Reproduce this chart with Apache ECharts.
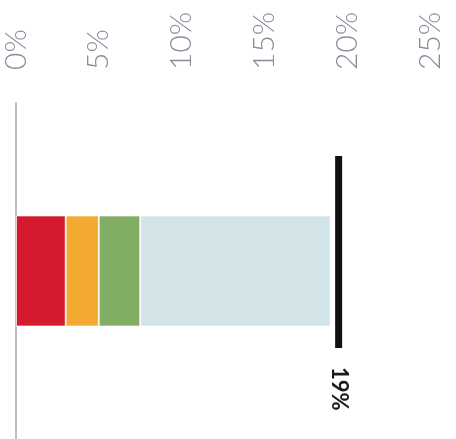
<!DOCTYPE html>
<html>
<head>
<meta charset="utf-8">
<style>html,body{margin:0;padding:0;background:#fff;}#c{width:456px;height:439px;}</style>
<script src="https://cdn.jsdelivr.net/npm/echarts@6/dist/echarts.min.js"></script>
</head>
<body>
<div id="c"></div>
<script>
const categories = ['Share'];
const segmentNames = ['Red', 'Orange', 'Green', 'Blue'];
const segmentValues = [3, 2, 2.5, 11.5];
const segmentColors = ['#d61a2d', '#f4aa32', '#82ae63', '#d2e4e8'];
const markerValue = 19;
const markerLabel = '19%';
const tickMin = 0, tickMax = 25, tickStep = 5;

const chart = echarts.init(document.getElementById('c'));
const series = segmentValues.map((v, i) => ({
  name: segmentNames[i],
  type: 'bar',
  stack: 'total',
  barWidth: 111,
  data: [v],
  itemStyle: { color: segmentColors[i], borderColor: '#ffffff', borderWidth: 0.8 },
  silent: true
}));
series.push({
  type: 'scatter',
  data: [[markerValue, 0]],
  symbol: 'rect',
  symbolSize: [7, 192],
  symbolOffset: [8, -19],
  itemStyle: { color: '#111111', opacity: 1, borderRadius: 3 },
  z: 5,
  label: {
    show: true,
    position: 'bottom',
    distance: 19,
    rotate: -90,
    align: 'left',
    verticalAlign: 'middle',
    formatter: () => markerLabel,
    color: '#1a1a1a',
    fontFamily: 'Lato',
    fontWeight: 'bold',
    fontSize: 22
  }
});

chart.setOption({
  animation: false,
  grid: { left: 16, right: 26, top: 103, bottom: 0 },
  xAxis: {
    type: 'value',
    position: 'top',
    min: tickMin, max: tickMax, interval: tickStep,
    axisLine: { show: false },
    axisTick: { show: false },
    splitLine: { show: false },
    axisLabel: {
      rotate: -90,
      margin: 33,
      formatter: '{value}%',
      color: '#8a8c9c',
      fontFamily: 'Lato',
      fontWeight: 300,
      fontSize: 30
    }
  },
  yAxis: {
    type: 'category',
    data: categories,
    axisLine: { show: true, lineStyle: { color: '#a8a8a8', width: 1.5 } },
    axisTick: { show: false },
    axisLabel: { show: false }
  },
  series: series
});
</script>
</body>
</html>
